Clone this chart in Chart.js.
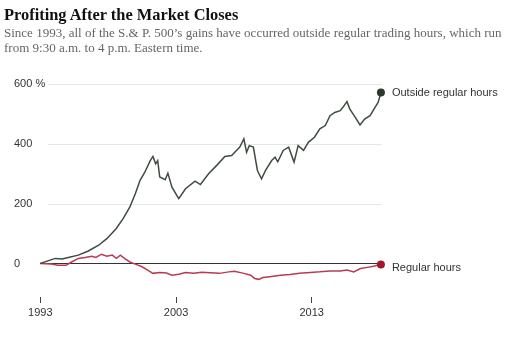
<!DOCTYPE html>
<html>
<head>
<meta charset="utf-8">
<script src="https://cdn.jsdelivr.net/npm/chart.js@4"></script>
<style>
  html, body { margin: 0; padding: 0; background: #fff; }
  #wrap { position: relative; width: 516px; height: 353px; overflow: hidden; }
  #title { position: absolute; left: 4px; top: 5px; font: bold 16.4px "Liberation Serif", serif; color: #111; white-space: nowrap; }
  #sub { position: absolute; left: 4px; top: 25px; width: 505px; font: 13px/15px "Liberation Serif", serif; color: #666; }
  canvas { position: absolute; left: 0; top: 0; }
</style>
</head>
<body>
<div id="wrap">
  <canvas id="chart" width="516" height="353"></canvas>
  <div id="title">Profiting After the Market Closes</div>
  <div id="sub">Since 1993, all of the S.&amp; P. 500’s gains have occurred outside regular trading hours, which run from 9:30 a.m. to 4 p.m. Eastern time.</div>
</div>
<script>
( function () {
	'use strict';

	// values, cumulative gain in %
	var outsideYears = [ 1993.0, 1993.5, 1994.1, 1994.6, 1995.06, 1995.8, 1996.5, 1997.3, 1997.9, 1998.6, 1999.1, 1999.6, 2000.0, 2000.35, 2000.7, 2001.1, 2001.3, 2001.5, 2001.65, 2001.8, 2002.2, 2002.4, 2002.7, 2003.2, 2003.7, 2004.4, 2004.8, 2005.4, 2006.0, 2006.6, 2007.1, 2007.7, 2008.0, 2008.2, 2008.4, 2008.7, 2009.0, 2009.3, 2009.6, 2010.05, 2010.3, 2010.5, 2010.9, 2011.3, 2011.7, 2012.0, 2012.4, 2012.75, 2013.2, 2013.6, 2014.0, 2014.35, 2014.7, 2015.1, 2015.3, 2015.6, 2015.8, 2016.2, 2016.56, 2016.9, 2017.3, 2017.6, 2017.9, 2018.1 ];
	var outsideValues = [ 0, 8, 17, 15, 20, 28, 41, 61, 83, 117, 150, 189, 233, 278, 305, 344, 358, 333, 344, 289, 280, 302, 255, 217, 250, 275, 264, 300, 328, 358, 361, 389, 417, 372, 394, 389, 311, 283, 311, 344, 355, 340, 378, 389, 339, 394, 378, 405, 422, 450, 461, 494, 505, 511, 522, 541, 517, 489, 463, 483, 494, 517, 539, 572 ];

	var regularYears = [ 1993.0, 1993.8, 1994.3, 1994.9, 1995.3, 1995.8, 1996.3, 1996.8, 1997.1, 1997.5, 1997.9, 1998.3, 1998.6, 1998.9, 1999.2, 1999.6, 2000.0, 2000.5, 2001.0, 2001.3, 2001.8, 2002.3, 2002.7, 2003.2, 2003.7, 2004.3, 2004.9, 2005.5, 2006.2, 2006.9, 2007.3, 2008.0, 2008.5, 2008.8, 2009.1, 2009.4, 2009.9, 2010.7, 2011.4, 2012.1, 2012.9, 2013.6, 2014.35, 2015.1, 2015.6, 2016.1, 2016.6, 2017.1, 2017.55, 2018.1 ];
	var regularValues = [ 0, -2, -6, -6, 5, 17, 20, 24, 20, 31, 24, 28, 17, 28, 17, 5, -2, -11, -25, -33, -30, -32, -39, -36, -30, -33, -29, -31, -33, -28, -26, -33, -39, -50, -53, -47, -44, -39, -37, -33, -30, -28, -25, -25, -22, -28, -17, -13, -9, -3 ];

	var yTicks = [ 0, 200, 400, 600 ];
	var xTicks = [ 1993, 2003, 2013 ];
	var seriesNames = [ 'Outside regular hours', 'Regular hours' ];

	var green = { line: '#3f4c41', dot: '#2c372e' };
	var red = { line: '#b83c50', dot: '#a3162b' };

	function toPoints( xs, ys ) {
		return xs.map( function ( x, i ) { return { x: x, y: ys[ i ] }; } );
	}

	function lastDot( n ) {
		return function ( ctx ) { return ctx.dataIndex === n - 1 ? 4 : 0; };
	}

	// light gridlines + black zero line under the lines, end labels on top
	var gridPlugin = {
		id: 'grid',
		beforeDatasetsDraw: function ( chart ) {
			var ctx = chart.ctx, area = chart.chartArea;
			var ys = chart.scales.y, xs = chart.scales.x;
			ctx.save();
			ctx.lineWidth = 1;
			yTicks.forEach( function ( v ) {
				if ( v === 0 ) { return; }
				var py = Math.round( ys.getPixelForValue( v ) ) + 0.5;
				ctx.strokeStyle = '#e6e6e6';
				ctx.beginPath();
				ctx.moveTo( 48, py );
				ctx.lineTo( area.right, py );
				ctx.stroke();
			} );
			var zy = Math.round( ys.getPixelForValue( 0 ) ) + 0.5;
			ctx.strokeStyle = '#333';
			ctx.beginPath();
			ctx.moveTo( xs.getPixelForValue( xTicks[ 0 ] ), zy );
			ctx.lineTo( area.right, zy );
			ctx.stroke();
			ctx.restore();
		},
		afterDatasetsDraw: function ( chart ) {
			var ctx = chart.ctx;
			ctx.save();
			ctx.font = '11px "Liberation Sans", Arial, sans-serif';
			ctx.fillStyle = '#333';
			ctx.textAlign = 'left';
			ctx.textBaseline = 'middle';
			var offs = [ 1, 4 ];
			chart.data.datasets.forEach( function ( ds, i ) {
				var pts = chart.getDatasetMeta( i ).data;
				var p = pts[ pts.length - 1 ];
				ctx.fillText( seriesNames[ i ], p.x + 11, p.y + offs[ i ] );
			} );
			ctx.restore();
		},
	};

	new Chart( document.getElementById( 'chart' ).getContext( '2d' ), {
		type: 'line',
		data: {
			datasets: [ {
				label: seriesNames[ 0 ],
				data: toPoints( outsideYears, outsideValues ),
				borderColor: green.line,
				borderWidth: 1.5,
				pointRadius: lastDot( outsideYears.length ),
				pointBackgroundColor: green.dot,
				pointBorderWidth: 0,
				tension: 0,
				clip: false,
			}, {
				label: seriesNames[ 1 ],
				data: toPoints( regularYears, regularValues ),
				borderColor: red.line,
				borderWidth: 1.5,
				pointRadius: lastDot( regularYears.length ),
				pointBackgroundColor: red.dot,
				pointBorderWidth: 0,
				tension: 0,
				clip: false,
			} ],
		},
		options: {
			responsive: false,
			animation: false,
			layout: { padding: { left: 14, right: 134, top: 84, bottom: 26 } },
			plugins: {
				legend: { display: false },
				tooltip: { enabled: false },
			},
			scales: {
				x: {
					type: 'linear',
					min: 1991.06,
					max: 2018.18,
					afterBuildTicks: function ( s ) { s.ticks = xTicks.map( function ( v ) { return { value: v }; } ); },
					afterFit: function ( s ) { s.height = 30; },
					grid: { display: true, drawOnChartArea: false, drawTicks: true, tickLength: 6, color: '#444', tickWidth: 1 },
					border: { display: false },
					ticks: {
						padding: 3,
						maxRotation: 0,
						color: '#333',
						font: { family: '"Liberation Sans", Arial, sans-serif', size: 11 },
						callback: function ( v ) { return String( v ); },
					},
				},
				y: {
					min: -112,
					max: 600,
					afterBuildTicks: function ( s ) { s.ticks = yTicks.map( function ( v ) { return { value: v }; } ); },
					grid: { display: false, drawTicks: false },
					border: { display: false },
					ticks: {
						mirror: true,
						padding: 0,
						color: '#333',
						font: { family: '"Liberation Sans", Arial, sans-serif', size: 11 },
						callback: function ( v ) { return v === 600 ? '600 %' : String( v ); },
					},
				},
			},
		},
		plugins: [ gridPlugin ],
	} );
} )();
</script>
</body>
</html>
